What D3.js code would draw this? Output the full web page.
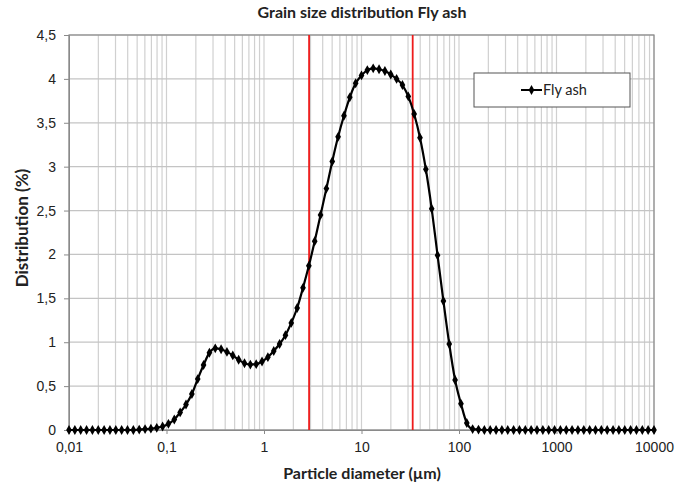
<!DOCTYPE html>
<html>
<head>
<meta charset="utf-8">
<script src="https://cdn.jsdelivr.net/npm/d3@7"></script>
<style>
  html, body { margin: 0; padding: 0; background: #fff; }
  svg { display: block; font-family: Lato, "Open Sans", sans-serif; }
</style>
</head>
<body>
<svg id="chart" width="686" height="483"></svg>
<script>
// ---- data ----
const diameters = [0.01, 0.01148, 0.01318, 0.01514, 0.01738, 0.01995, 0.02291, 0.0263, 0.0302, 0.03467,
  0.03981, 0.04571, 0.05248, 0.06026, 0.06918, 0.07943, 0.0912, 0.1047, 0.1202, 0.138,
  0.1585, 0.182, 0.2089, 0.2399, 0.2754, 0.3162, 0.3631, 0.4169, 0.4786, 0.5495,
  0.631, 0.7244, 0.8318, 0.955, 1.096, 1.259, 1.445, 1.66, 1.905, 2.188,
  2.512, 2.884, 3.311, 3.802, 4.365, 5.012, 5.754, 6.607, 7.586, 8.71,
  10, 11.48, 13.18, 15.14, 17.38, 19.95, 22.91, 26.3, 30.2, 34.67,
  39.81, 45.71, 52.48, 60.26, 69.18, 79.43, 91.2, 104.7, 120.2, 138,
  158.5, 182, 208.9, 239.9, 275.4, 316.2, 363.1, 416.9, 478.6, 549.5,
  631, 724.4, 831.8, 955, 1096, 1259, 1445, 1660, 1905, 2188,
  2512, 2884, 3311, 3802, 4365, 5012, 5754, 6607, 7586, 8710, 10000];
const flyAsh = [0, 0, 0, 0, 0, 0, 0, 0, 0, 0,
  0, 0, 0.005, 0.01, 0.015, 0.025, 0.04, 0.07, 0.12, 0.20,
  0.29, 0.41, 0.58, 0.74, 0.88, 0.93, 0.92, 0.89, 0.85, 0.80,
  0.76, 0.745, 0.75, 0.78, 0.83, 0.90, 0.98, 1.08, 1.22, 1.39,
  1.62, 1.87, 2.15, 2.45, 2.75, 3.06, 3.34, 3.58, 3.79, 3.95,
  4.04, 4.10, 4.12, 4.11, 4.09, 4.05, 4.00, 3.93, 3.80, 3.60,
  3.33, 2.97, 2.52, 1.99, 1.47, 0.98, 0.57, 0.30, 0.08, 0.01,
  0.005, 0, 0, 0, 0, 0, 0, 0, 0, 0,
  0, 0, 0, 0, 0, 0, 0, 0, 0, 0,
  0, 0, 0, 0, 0, 0, 0, 0, 0, 0, 0];
const markerLines = [2.9, 33.5];
const xTickValues = [0.01, 0.1, 1, 10, 100, 1000, 10000];
const xTickLabels = ["0,01", "0,1", "1", "10", "100", "1000", "10000"];
const yTickValues = [0, 0.5, 1, 1.5, 2, 2.5, 3, 3.5, 4, 4.5];
const yTickLabels = ["0", "0,5", "1", "1,5", "2", "2,5", "3", "3,5", "4", "4,5"];
const seriesName = "Fly ash";
const chartTitle = "Grain size distribution Fly ash";
const xTitle = "Particle diameter (µm)";
const yTitle = "Distribution (%)";

// ---- layout ----
const L = 69, R = 654, T = 35, B = 430;
const svg = d3.select("#chart");
const x = d3.scaleLog().domain([0.01, 10000]).range([L, R]);
const y = d3.scaleLinear().domain([0, 4.5]).range([B, T]);

// minor + major vertical gridlines
const vGrid = [];
for (let e = -2; e < 4; e++) for (let m = 1; m <= 9; m++) vGrid.push(m * Math.pow(10, e));
vGrid.push(10000);
svg.append("g").selectAll("line").data(vGrid).join("line")
  .attr("x1", d => x(d)).attr("x2", d => x(d))
  .attr("y1", T).attr("y2", B)
  .attr("stroke", "#d0d0d0").attr("stroke-width", 1.2);

// horizontal gridlines
svg.append("g").selectAll("line").data(yTickValues).join("line")
  .attr("x1", L).attr("x2", R)
  .attr("y1", d => y(d)).attr("y2", d => y(d))
  .attr("stroke", "#c4c4c4").attr("stroke-width", 1.2);

// plot border
svg.append("rect").attr("x", L).attr("y", T).attr("width", R - L).attr("height", B - T)
  .attr("fill", "none").attr("stroke", "#8a8a8a").attr("stroke-width", 1.2);

// red vertical lines
svg.append("g").selectAll("line").data(markerLines).join("line")
  .attr("x1", d => x(d)).attr("x2", d => x(d))
  .attr("y1", T).attr("y2", B)
  .attr("stroke", "#ee1c1c").attr("stroke-width", 1.8);

// axes
const xAxis = d3.axisBottom(x).tickValues(xTickValues)
  .tickFormat((d, i) => xTickLabels[i]).tickSize(4).tickPadding(8);
const gx = svg.append("g").attr("transform", `translate(0,${B})`).call(xAxis);
gx.select(".domain").attr("stroke", "#8a8a8a");
gx.selectAll(".tick line").attr("stroke", "#8a8a8a");
gx.selectAll("text").attr("font-size", 14).attr("fill", "#222");

const yAxis = d3.axisLeft(y).tickValues(yTickValues)
  .tickFormat((d, i) => yTickLabels[i]).tickSize(5).tickPadding(8);
const gy = svg.append("g").attr("transform", `translate(${L},0)`).call(yAxis);
gy.select(".domain").attr("stroke", "#8a8a8a");
gy.selectAll(".tick line").attr("stroke", "#8a8a8a");
gy.selectAll("text").attr("font-size", 14).attr("fill", "#222");

// series
const pts = diameters.map((d, i) => ({ d, v: flyAsh[i] }));
svg.append("path").datum(pts)
  .attr("fill", "none").attr("stroke", "#000").attr("stroke-width", 2.2)
  .attr("d", d3.line().x(p => x(p.d)).y(p => y(p.v)).curve(d3.curveMonotoneX));
const diamond = d3.symbol().type(d3.symbolDiamond).size(28);
svg.append("g").selectAll("path").data(pts).join("path")
  .attr("transform", p => `translate(${x(p.d)},${y(p.v)})`)
  .attr("d", diamond).attr("fill", "#000");

// legend
const lg = svg.append("g");
lg.append("rect").attr("x", 474).attr("y", 73).attr("width", 156).attr("height", 34)
  .attr("fill", "#fff").attr("stroke", "#555").attr("stroke-width", 1);
lg.append("line").attr("x1", 521).attr("x2", 542).attr("y1", 90).attr("y2", 90)
  .attr("stroke", "#000").attr("stroke-width", 2);
lg.append("path").attr("transform", "translate(531.5,90)").attr("d", diamond).attr("fill", "#000");
lg.append("text").attr("x", 543).attr("y", 95).attr("font-size", 14.5).attr("fill", "#222").text(seriesName);

// titles
svg.append("text").attr("x", 362).attr("y", 18).attr("text-anchor", "middle")
  .attr("font-size", 16).attr("font-weight", "bold").attr("fill", "#222").text(chartTitle);
svg.append("text").attr("x", 362).attr("y", 479).attr("text-anchor", "middle")
  .attr("font-size", 16).attr("font-weight", "bold").attr("fill", "#222").text(xTitle);
svg.append("text").attr("transform", "translate(28,228) rotate(-90)").attr("text-anchor", "middle")
  .attr("font-size", 17).attr("font-weight", "bold").attr("fill", "#222").text(yTitle);
</script>
</body>
</html>
